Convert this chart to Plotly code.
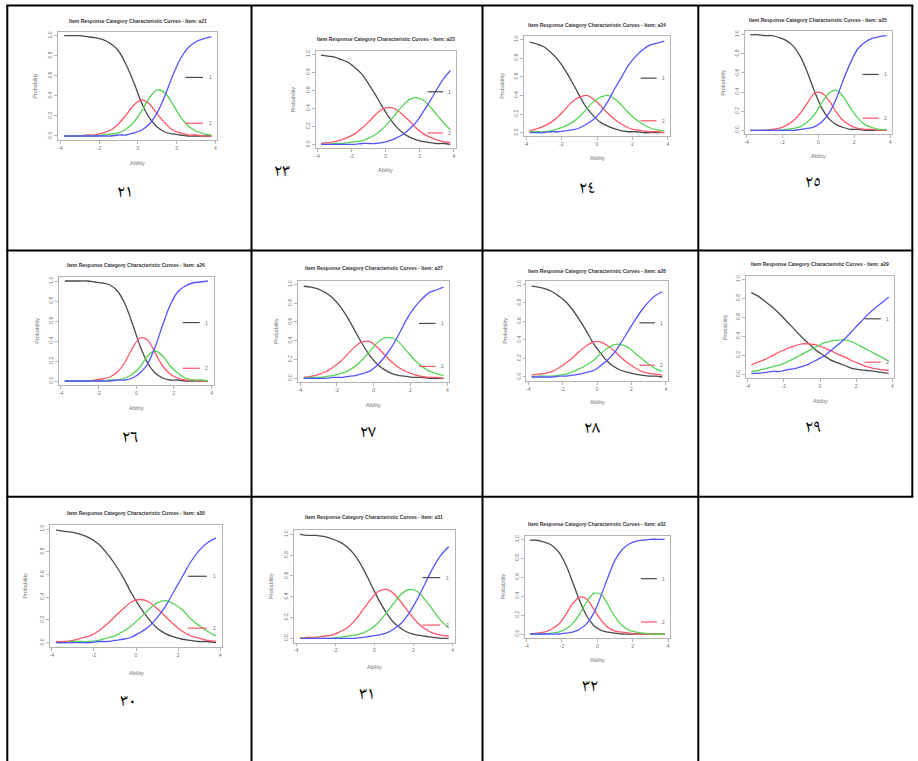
import plotly.graph_objects as go

W, H = 918, 761

# ---------------- data ----------------
ability = [-3.8, -3.4, -3.0, -2.6, -2.2, -1.8, -1.4, -1.0, -0.6, -0.2,
           0.2, 0.6, 1.0, 1.4, 1.8, 2.2, 2.6, 3.0, 3.4, 3.8]

x_tick_vals = [-4, -2, 0, 2, 4]
x_tick_text = ["-4", "-2", "0", "2", "4"]
y_tick_vals = [0.0, 0.2, 0.4, 0.6, 0.8, 1.0]
y_tick_text = ["0.0", "0.2", "0.4", "0.6", "0.8", "1.0"]

items = ["a21", "a23", "a24", "a25", "a26", "a27", "a28", "a29", "a30", "a31", "a32"]
numerals = ["٢١", "٢٣", "٢٤", "٢٥", "٢٦", "٢٧", "٢٨", "٢٩", "٣٠", "٣١", "٣٢"]
legend_labels = ["1", "2"]

a21_cat1 = [1.00,1.00,1.00,0.99,0.98,0.96,0.92,0.85,0.71,0.53,0.33,0.18,0.09,0.04,0.02,0.01,0.00,0.00,0.00,0.00]
a21_cat2 = [0.00,0.00,0.00,0.01,0.01,0.03,0.06,0.12,0.21,0.31,0.36,0.32,0.22,0.13,0.06,0.03,0.01,0.01,0.00,0.00]
a21_cat3 = [0.00,0.00,0.00,0.00,0.00,0.01,0.02,0.03,0.07,0.14,0.25,0.38,0.46,0.43,0.32,0.19,0.10,0.05,0.02,0.01]
a21_cat4 = [0.00,0.00,0.00,0.00,0.00,0.00,0.00,0.01,0.01,0.03,0.06,0.12,0.23,0.40,0.60,0.77,0.88,0.94,0.97,0.99]

a23_cat1 = [0.99,0.98,0.97,0.94,0.91,0.85,0.78,0.67,0.55,0.42,0.30,0.20,0.13,0.08,0.05,0.03,0.02,0.01,0.01,0.00]
a23_cat2 = [0.01,0.02,0.03,0.05,0.08,0.12,0.18,0.25,0.33,0.39,0.41,0.39,0.33,0.26,0.18,0.12,0.08,0.05,0.03,0.02]
a23_cat3 = [0.00,0.00,0.01,0.01,0.02,0.03,0.04,0.07,0.11,0.17,0.25,0.34,0.43,0.50,0.52,0.49,0.42,0.33,0.24,0.16]
a23_cat4 = [0.00,0.00,0.00,0.00,0.00,0.00,0.01,0.01,0.01,0.02,0.04,0.07,0.11,0.17,0.25,0.36,0.48,0.61,0.73,0.82]

a24_cat1 = [0.97,0.95,0.92,0.86,0.78,0.67,0.54,0.40,0.27,0.18,0.11,0.07,0.04,0.02,0.01,0.01,0.00,0.00,0.00,0.00]
a24_cat2 = [0.02,0.04,0.07,0.11,0.17,0.25,0.33,0.38,0.40,0.36,0.29,0.21,0.14,0.09,0.05,0.03,0.02,0.01,0.01,0.00]
a24_cat3 = [0.01,0.01,0.01,0.02,0.04,0.07,0.11,0.17,0.25,0.33,0.38,0.40,0.36,0.29,0.21,0.14,0.09,0.05,0.03,0.02]
a24_cat4 = [0.00,0.00,0.00,0.01,0.01,0.02,0.03,0.05,0.09,0.14,0.22,0.33,0.47,0.60,0.73,0.82,0.89,0.94,0.96,0.98]

a25_cat1 = [1.00,1.00,0.99,0.99,0.97,0.94,0.88,0.77,0.60,0.40,0.23,0.12,0.06,0.03,0.01,0.01,0.00,0.00,0.00,0.00]
a25_cat2 = [0.00,0.00,0.00,0.01,0.02,0.05,0.10,0.18,0.29,0.39,0.39,0.31,0.19,0.10,0.05,0.02,0.01,0.01,0.00,0.00]
a25_cat3 = [0.00,0.00,0.00,0.00,0.00,0.01,0.02,0.04,0.09,0.17,0.29,0.39,0.42,0.35,0.23,0.13,0.06,0.03,0.01,0.01]
a25_cat4 = [0.00,0.00,0.00,0.00,0.00,0.00,0.00,0.01,0.02,0.04,0.09,0.18,0.33,0.53,0.71,0.85,0.92,0.96,0.98,0.99]

a26_cat1 = [1.00,1.00,1.00,1.00,0.99,0.98,0.96,0.90,0.77,0.57,0.35,0.18,0.08,0.03,0.01,0.01,0.00,0.00,0.00,0.00]
a26_cat2 = [0.00,0.00,0.00,0.00,0.01,0.02,0.04,0.09,0.19,0.33,0.43,0.41,0.28,0.15,0.07,0.03,0.01,0.01,0.00,0.00]
a26_cat3 = [0.00,0.00,0.00,0.00,0.00,0.00,0.01,0.01,0.03,0.07,0.14,0.25,0.30,0.25,0.15,0.08,0.03,0.01,0.01,0.00]
a26_cat4 = [0.00,0.00,0.00,0.00,0.00,0.00,0.00,0.01,0.01,0.03,0.08,0.17,0.34,0.56,0.76,0.89,0.95,0.98,0.99,1.00]

a27_cat1 = [0.98,0.97,0.95,0.91,0.85,0.76,0.64,0.50,0.36,0.24,0.15,0.09,0.05,0.03,0.02,0.01,0.01,0.00,0.00,0.00]
a27_cat2 = [0.01,0.02,0.04,0.07,0.12,0.18,0.26,0.34,0.39,0.39,0.33,0.25,0.17,0.11,0.07,0.04,0.02,0.01,0.01,0.00]
a27_cat3 = [0.00,0.01,0.01,0.02,0.03,0.05,0.08,0.13,0.20,0.29,0.38,0.43,0.43,0.38,0.29,0.20,0.13,0.08,0.05,0.03]
a27_cat4 = [0.00,0.00,0.00,0.00,0.01,0.01,0.02,0.03,0.05,0.08,0.14,0.23,0.34,0.48,0.63,0.75,0.84,0.91,0.94,0.97]

a28_cat1 = [0.98,0.97,0.95,0.92,0.87,0.81,0.72,0.61,0.49,0.36,0.26,0.17,0.11,0.07,0.05,0.03,0.02,0.01,0.01,0.00]
a28_cat2 = [0.02,0.03,0.04,0.06,0.10,0.15,0.21,0.28,0.34,0.38,0.38,0.34,0.28,0.21,0.15,0.10,0.06,0.04,0.03,0.02]
a28_cat3 = [0.00,0.01,0.01,0.01,0.02,0.03,0.06,0.09,0.13,0.18,0.25,0.31,0.35,0.35,0.32,0.26,0.20,0.14,0.09,0.06]
a28_cat4 = [0.00,0.00,0.00,0.00,0.01,0.01,0.02,0.03,0.05,0.07,0.12,0.18,0.26,0.37,0.49,0.61,0.72,0.81,0.88,0.92]

a29_cat1 = [0.86,0.82,0.76,0.70,0.63,0.55,0.47,0.39,0.32,0.25,0.20,0.15,0.12,0.09,0.06,0.05,0.04,0.03,0.02,0.01]
a29_cat2 = [0.10,0.13,0.16,0.20,0.24,0.27,0.30,0.32,0.32,0.31,0.28,0.25,0.21,0.18,0.14,0.11,0.08,0.06,0.05,0.04]
a29_cat3 = [0.03,0.04,0.06,0.08,0.10,0.13,0.17,0.21,0.25,0.29,0.33,0.35,0.36,0.36,0.34,0.30,0.26,0.22,0.18,0.14]
a29_cat4 = [0.01,0.01,0.02,0.03,0.03,0.05,0.06,0.08,0.11,0.15,0.19,0.25,0.31,0.38,0.46,0.54,0.62,0.69,0.75,0.81]

a30_cat1 = [0.99,0.98,0.97,0.95,0.92,0.87,0.79,0.69,0.57,0.43,0.31,0.21,0.13,0.08,0.05,0.03,0.02,0.01,0.01,0.00]
a30_cat2 = [0.01,0.01,0.02,0.04,0.06,0.10,0.16,0.23,0.30,0.36,0.38,0.36,0.30,0.23,0.16,0.10,0.06,0.04,0.02,0.01]
a30_cat3 = [0.00,0.00,0.01,0.01,0.01,0.02,0.04,0.06,0.10,0.15,0.22,0.29,0.35,0.37,0.34,0.29,0.21,0.15,0.10,0.06]
a30_cat4 = [0.00,0.00,0.00,0.00,0.00,0.01,0.01,0.02,0.03,0.05,0.09,0.14,0.22,0.32,0.45,0.58,0.71,0.81,0.88,0.92]

a31_cat1 = [1.00,0.99,0.99,0.98,0.96,0.93,0.88,0.80,0.68,0.53,0.38,0.25,0.15,0.09,0.05,0.03,0.02,0.01,0.00,0.00]
a31_cat2 = [0.00,0.01,0.01,0.02,0.03,0.06,0.10,0.17,0.27,0.37,0.45,0.47,0.43,0.34,0.24,0.15,0.09,0.05,0.03,0.02]
a31_cat3 = [0.00,0.00,0.00,0.00,0.00,0.01,0.02,0.03,0.05,0.09,0.15,0.24,0.34,0.43,0.47,0.45,0.37,0.27,0.17,0.10]
a31_cat4 = [0.00,0.00,0.00,0.00,0.00,0.00,0.00,0.00,0.01,0.02,0.03,0.05,0.09,0.15,0.25,0.38,0.53,0.68,0.80,0.88]

a32_cat1 = [0.99,0.99,0.97,0.94,0.87,0.74,0.55,0.35,0.19,0.09,0.04,0.02,0.01,0.00,0.00,0.00,0.00,0.00,0.00,0.00]
a32_cat2 = [0.00,0.01,0.02,0.05,0.10,0.20,0.32,0.39,0.37,0.26,0.15,0.07,0.03,0.02,0.01,0.00,0.00,0.00,0.00,0.00]
a32_cat3 = [0.00,0.00,0.00,0.01,0.02,0.05,0.11,0.21,0.34,0.43,0.42,0.31,0.18,0.09,0.04,0.02,0.01,0.00,0.00,0.00]
a32_cat4 = [0.00,0.00,0.00,0.00,0.00,0.01,0.02,0.05,0.11,0.22,0.40,0.60,0.78,0.89,0.95,0.98,0.99,1.00,1.00,1.00]

curves = {
    "a21": [a21_cat1, a21_cat2, a21_cat3, a21_cat4],
    "a23": [a23_cat1, a23_cat2, a23_cat3, a23_cat4],
    "a24": [a24_cat1, a24_cat2, a24_cat3, a24_cat4],
    "a25": [a25_cat1, a25_cat2, a25_cat3, a25_cat4],
    "a26": [a26_cat1, a26_cat2, a26_cat3, a26_cat4],
    "a27": [a27_cat1, a27_cat2, a27_cat3, a27_cat4],
    "a28": [a28_cat1, a28_cat2, a28_cat3, a28_cat4],
    "a29": [a29_cat1, a29_cat2, a29_cat3, a29_cat4],
    "a30": [a30_cat1, a30_cat2, a30_cat3, a30_cat4],
    "a31": [a31_cat1, a31_cat2, a31_cat3, a31_cat4],
    "a32": [a32_cat1, a32_cat2, a32_cat3, a32_cat4],
}

# ---------------- layout (pixel geometry of each embedded plot) ----------------
# frame: left, right, top, bottom ; title_y ; ability_y ; prob_x ; numeral (x, y)
geom = {
    "a21": dict(f=(58.3, 217.3, 31.7, 140.0), t=20.7, ab=163.0, pr=35.0, num=(125.0, 193.0)),
    "a23": dict(f=(315.8, 455.6, 50.7, 148.0), t=39.3, ab=170.0, pr=293.0, num=(281.7, 171.7)),
    "a24": dict(f=(524.3, 669.7, 35.6, 136.4), t=25.0, ab=158.0, pr=501.7, num=(586.7, 189.3)),
    "a25": dict(f=(744.8, 891.9, 30.8, 134.2), t=20.0, ab=156.0, pr=723.3, num=(813.3, 182.7)),
    "a26": dict(f=(59.0, 213.6, 277.0, 385.0), t=265.0, ab=408.3, pr=36.7, num=(130.0, 437.7)),
    "a27": dict(f=(298.1, 449.2, 280.6, 382.1), t=268.3, ab=405.0, pr=276.7, num=(368.3, 433.3)),
    "a28": dict(f=(526.4, 667.6, 280.6, 380.7), t=271.0, ab=401.7, pr=505.0, num=(591.7, 429.3)),
    "a29": dict(f=(745.8, 894.2, 275.5, 378.1), t=264.3, ab=400.7, pr=724.3, num=(813.3, 427.7)),
    "a30": dict(f=(49.7, 222.3, 524.5, 647.2), t=512.7, ab=672.7, pr=25.0, num=(128.3, 701.7)),
    "a31": dict(f=(294.0, 454.7, 530.2, 642.5), t=517.3, ab=666.7, pr=271.7, num=(366.7, 695.0)),
    "a32": dict(f=(524.7, 670.0, 535.5, 637.8), t=524.3, ab=660.0, pr=502.7, num=(590.0, 687.3)),
}

colors = ["#4a4a4a", "#ff5566", "#55d455", "#5555ff"]
axis_grey = "#b4b4b4"
label_grey = "#707070"
font_main = "Liberation Sans, Arial, sans-serif"


def px(x):
    return x / W


def py(y):
    return 1 - y / H


fig = go.Figure()
layout_axes = {}
annotations = []
shapes = []

for i, key in enumerate(items):
    n = i + 1
    sfx = "" if n == 1 else str(n)
    xa, ya = "x" + sfx, "y" + sfx
    for c, vals in enumerate(curves[key]):
        fig.add_trace(go.Scatter(
            x=ability, y=vals, mode="lines", xaxis=xa, yaxis=ya,
            line=dict(color=colors[c], width=1.3, shape="spline", smoothing=0.9),
            showlegend=False, hoverinfo="skip"))
    g = geom[key]
    l, r, t, b = g["f"]
    common = dict(showline=True, mirror=True, linecolor=axis_grey, linewidth=0.8,
                  ticks="outside", ticklen=3, tickwidth=0.7, tickcolor=axis_grey,
                  showgrid=False, zeroline=False,
                  tickfont=dict(size=5, color=label_grey, family=font_main))
    layout_axes["xaxis" + sfx] = dict(domain=[px(l), px(r)], anchor=ya,
                                      range=[-4.104, 4.104], tickmode="array",
                                      tickvals=x_tick_vals, ticktext=x_tick_text, **common)
    layout_axes["yaxis" + sfx] = dict(domain=[py(b), py(t)], anchor=xa,
                                      range=[-0.04, 1.04], tickmode="array",
                                      tickvals=y_tick_vals, ticktext=y_tick_text,
                                      tickangle=-90, **common)
    cx = (l + r) / 2
    cy = (t + b) / 2
    annotations.append(dict(text="Item Response Category Characteristic Curves - Item: " + key,
                            x=px(cx), y=py(g["t"]), xref="paper", yref="paper",
                            showarrow=False, xanchor="center", yanchor="middle",
                            font=dict(size=5, color="#333", family=font_main, weight="bold")))
    annotations.append(dict(text="Ability", x=px(cx), y=py(g["ab"]), xref="paper", yref="paper",
                            showarrow=False, xanchor="center", yanchor="middle",
                            font=dict(size=5.5, color=label_grey, family=font_main)))
    annotations.append(dict(text="Probability", x=px(g["pr"]), y=py(cy), xref="paper", yref="paper",
                            showarrow=False, xanchor="center", yanchor="middle", textangle=-90,
                            font=dict(size=5.5, color=label_grey, family=font_main)))
    annotations.append(dict(text=numerals[i], x=px(g["num"][0]), y=py(g["num"][1]),
                            xref="paper", yref="paper", showarrow=False,
                            xanchor="center", yanchor="middle",
                            font=dict(size=18, color="#000",
                                      family="Noto Naskh Arabic, Noto Sans Arabic, DejaVu Sans")))
    # legend keys (category 1 and 2)
    for k, (yy, col) in enumerate([(0.578, colors[0]), (0.155, colors[1])]):
        shapes.append(dict(type="line", xref=xa + " domain", yref=ya + " domain",
                           x0=0.80, x1=0.91, y0=yy, y1=yy,
                           line=dict(color=col, width=1.2)))
        annotations.append(dict(text=legend_labels[k], xref=xa + " domain", yref=ya + " domain",
                                x=0.955, y=yy, showarrow=False, xanchor="center", yanchor="middle",
                                font=dict(size=5, color=label_grey, family=font_main)))

# table grid
col_x = [7.3, 251.5, 482.5, 698.3]
row_y = [5.5, 250.5, 496.7]
right_x = 912.3
for yv in row_y:
    shapes.append(dict(type="line", xref="paper", yref="paper", x0=px(col_x[0] - 1), x1=px(right_x + 1),
                       y0=py(yv), y1=py(yv), line=dict(color="#000", width=2)))
for xv in col_x:
    shapes.append(dict(type="line", xref="paper", yref="paper", x0=px(xv), x1=px(xv),
                       y0=py(row_y[0]), y1=py(H + 5), line=dict(color="#000", width=2)))
shapes.append(dict(type="line", xref="paper", yref="paper", x0=px(right_x), x1=px(right_x),
                   y0=py(row_y[0]), y1=py(row_y[2]), line=dict(color="#000", width=2)))

fig.update_layout(
    width=W, height=H, autosize=False,
    margin=dict(l=0, r=0, t=0, b=0),
    paper_bgcolor="white", plot_bgcolor="rgba(0,0,0,0)",
    annotations=annotations, shapes=shapes, showlegend=False,
    **layout_axes)

fig.write_html("out.html", config={"displayModeBar": False},
               post_script="document.body.style.margin='0';document.body.style.padding='0';")
